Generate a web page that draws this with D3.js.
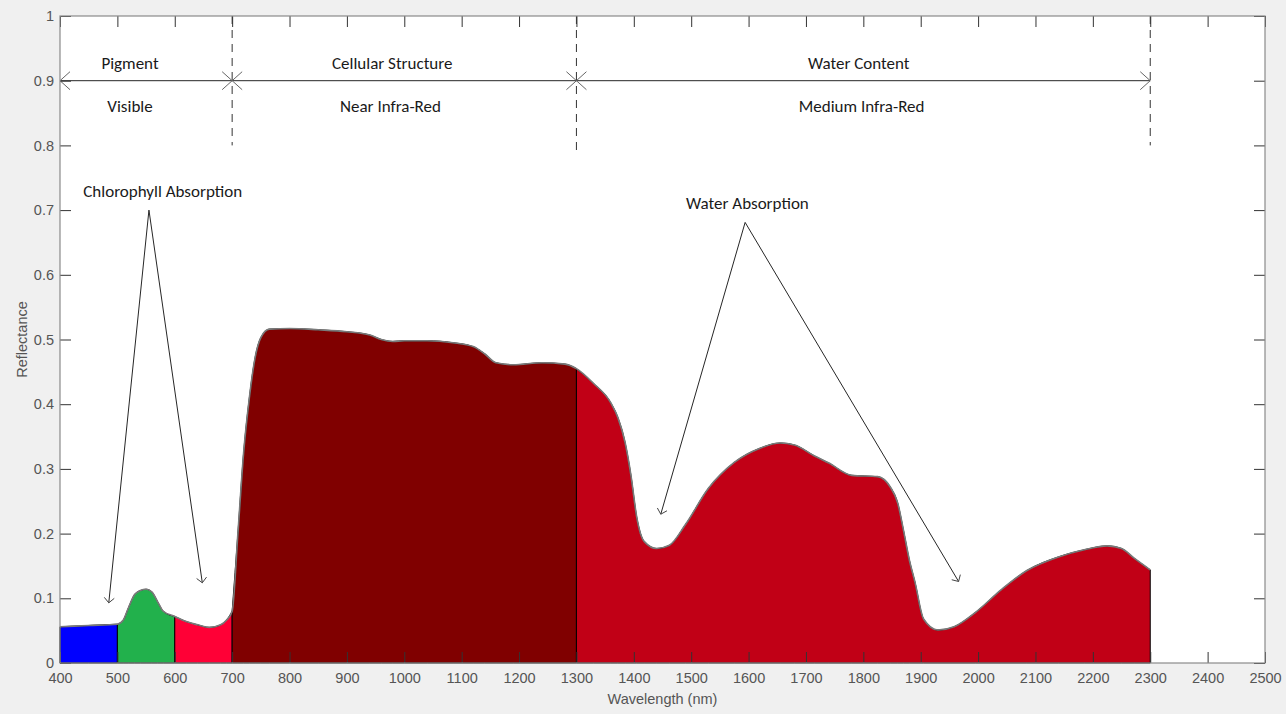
<!DOCTYPE html>
<html>
<head>
<meta charset="utf-8">
<script src="https://cdn.jsdelivr.net/npm/d3@7"></script>
<style>
  html, body { margin: 0; padding: 0; background: #f0f0f0; }
  .tick text { font-family: "Liberation Sans", Arial, sans-serif; font-size: 14.5px; fill: #555; }
  .tick line { stroke: #333; }
  .note { font-family: Carlito, Lato, "Open Sans", sans-serif; font-size: 17px; fill: #1a1a1a; }
</style>
</head>
<body>
<script>
// reflectance of a green leaf
var wavelengths = [400, 450, 500, 510, 520, 530, 540, 550, 560, 570, 580, 600, 620, 640, 660, 680, 690, 700,
    710, 720, 730, 740, 750, 765, 800, 850, 900, 940, 960, 980, 1000, 1040, 1085, 1120, 1140, 1160, 1190,
    1240, 1280, 1300, 1330, 1360, 1372, 1385, 1395, 1405, 1418, 1440, 1462, 1490, 1530, 1575, 1620, 1655,
    1680, 1715, 1740, 1780, 1825, 1847, 1860, 1870, 1880, 1890, 1905, 1930, 1958, 1995, 2040, 2085, 2140,
    2185, 2225, 2250, 2272, 2300];
var reflectance = [0.056, 0.058, 0.060, 0.066, 0.087, 0.106, 0.112, 0.114, 0.110, 0.095, 0.080, 0.072, 0.064, 0.059, 0.055, 0.059, 0.066, 0.080,
    0.200, 0.325, 0.410, 0.472, 0.503, 0.516, 0.517, 0.515, 0.512, 0.507, 0.500, 0.497, 0.498, 0.498, 0.495, 0.489, 0.478, 0.464, 0.461,
    0.464, 0.462, 0.455, 0.432, 0.402, 0.380, 0.340, 0.290, 0.226, 0.188, 0.177, 0.182, 0.214, 0.270, 0.310, 0.332, 0.340,
    0.337, 0.320, 0.309, 0.290, 0.288, 0.272, 0.247, 0.205, 0.160, 0.125, 0.068, 0.051, 0.056, 0.078, 0.113, 0.143, 0.164,
    0.175, 0.181, 0.177, 0.162, 0.144];

// coloured bands under the curve
var bandStart = [400, 500, 600, 700, 1300];
var bandEnd = [500, 600, 700, 1300, 2300];
var bandColor = ["#0000ff", "#22b14c", "#ff0036", "#800000", "#c10016"];

// regions at the top
var regionStart = [400, 700, 1300];
var regionEnd = [700, 1300, 2300];
var regionTop = ["Pigment", "Cellular Structure", "Water Content"];
var regionTopX = [522, 979, 1792];
var regionBottom = ["Visible", "Near Infra-Red", "Medium Infra-Red"];
var regionBottomX = [522, 976, 1797];
var dividerAt = [700, 1300, 2300];
var dividerLow = [0.8, 0.79, 0.8];

// callouts: label, label position, apex, two arrow tips
var calloutText = ["Chlorophyll Absorption", "Water Absorption"];
var calloutX = [579, 1598];
var calloutY = [0.730, 0.711];
var calloutApex = [[555, 0.700], [1594, 0.681]];
var calloutTips = [[[485, 0.093], [648, 0.124]], [[1447, 0.230], [1966, 0.126]]];

var xTicks = d3.range(400, 2501, 100);
var yTicks = d3.range(0, 1.01, 0.1);

var W = 1286, H = 714;
var margin = {top: 16, right: 21, bottom: 51, left: 60};
var w = W - margin.left - margin.right, h = H - margin.top - margin.bottom;

var svg = d3.select("body").append("svg")
    .attr("width", W)
    .attr("height", H)
    .style("display", "block");

svg.append("rect").attr("width", W).attr("height", H).attr("fill", "#f0f0f0");

var g = svg.append("g").attr("transform", "translate(" + margin.left + "," + margin.top + ")");

var x = d3.scaleLinear().domain([400, 2500]).range([0, w]);
var y = d3.scaleLinear().domain([0, 1]).range([h, 0]);

g.append("rect").attr("width", w).attr("height", h).attr("fill", "#fff");

var spectrum = wavelengths.map(function(d, i) { return {w: d, r: reflectance[i]}; });

var area = d3.area()
    .x(d => x(d.w))
    .y0(y(0))
    .y1(d => y(d.r))
    .curve(d3.curveMonotoneX);

var line = d3.line()
    .x(d => x(d.w))
    .y(d => y(d.r))
    .curve(d3.curveMonotoneX);

bandStart.forEach(function(s, i) {
    var pts = spectrum.filter(d => d.w >= s && d.w <= bandEnd[i]);
    g.append("path")
        .datum(pts)
        .attr("d", area)
        .attr("fill", bandColor[i])
        .attr("stroke", "#000")
        .attr("stroke-width", 1);
});

g.append("path")
    .datum(spectrum)
    .attr("d", line)
    .attr("fill", "none")
    .attr("stroke", "#7a7a7a")
    .attr("stroke-width", 1.6);

// dashed dividers
dividerAt.forEach(function(d, i) {
    g.append("line")
        .attr("x1", x(d)).attr("x2", x(d))
        .attr("y1", y(1)).attr("y2", y(dividerLow[i]))
        .attr("stroke", "#333")
        .attr("stroke-width", 1)
        .attr("stroke-dasharray", "8,6");
});

function head(x1, y1, x2, y2, len, half) {
    var a = Math.atan2(y2 - y1, x2 - x1);
    var bx = x2 - len * Math.cos(a), by = y2 - len * Math.sin(a);
    var px = -Math.sin(a) * half, py = Math.cos(a) * half;
    return "M" + (bx + px) + "," + (by + py) + "L" + x2 + "," + y2 + "L" + (bx - px) + "," + (by - py);
}

// double arrows with region names
regionStart.forEach(function(s, i) {
    var x1 = x(s), x2 = x(regionEnd[i]), yy = y(0.9);
    g.append("line")
        .attr("x1", x1).attr("x2", x2).attr("y1", yy).attr("y2", yy)
        .attr("stroke", "#262626").attr("stroke-width", 1);
    g.append("path").attr("d", head(x1, yy, x2, yy, 10, 9))
        .attr("fill", "none").attr("stroke", "#666").attr("stroke-width", 1);
    g.append("path").attr("d", head(x2, yy, x1, yy, 10, 9))
        .attr("fill", "none").attr("stroke", "#666").attr("stroke-width", 1);
    g.append("text").attr("class", "note")
        .attr("x", x(regionTopX[i])).attr("y", y(0.927))
        .attr("dy", "0.35em").attr("text-anchor", "middle")
        .text(regionTop[i]);
    g.append("text").attr("class", "note")
        .attr("x", x(regionBottomX[i])).attr("y", y(0.861))
        .attr("dy", "0.35em").attr("text-anchor", "middle")
        .text(regionBottom[i]);
});

// absorption callouts
calloutText.forEach(function(t, i) {
    g.append("text").attr("class", "note")
        .attr("x", x(calloutX[i])).attr("y", y(calloutY[i]))
        .attr("dy", "0.35em").attr("text-anchor", "middle")
        .text(t);
    var ax = x(calloutApex[i][0]), ay = y(calloutApex[i][1]);
    calloutTips[i].forEach(function(tp) {
        var tx = x(tp[0]), ty = y(tp[1]);
        g.append("line")
            .attr("x1", ax).attr("y1", ay).attr("x2", tx).attr("y2", ty)
            .attr("stroke", "#262626").attr("stroke-width", 1);
        g.append("path").attr("d", head(ax, ay, tx, ty, 5, 5))
            .attr("fill", "none").attr("stroke", "#444").attr("stroke-width", 1);
    });
});

// axes, ticks inward
var tk = 11;
g.append("g").attr("transform", "translate(0," + h + ")")
    .call(d3.axisBottom(x).tickValues(xTicks).tickSizeInner(-tk).tickSizeOuter(0).tickPadding(10).tickFormat(d3.format("d")))
    .call(a => a.select(".domain").remove());
g.append("g")
    .call(d3.axisTop(x).tickValues(xTicks).tickSizeInner(-tk).tickSizeOuter(0).tickFormat(""))
    .call(a => a.select(".domain").remove());
g.append("g")
    .call(d3.axisLeft(y).tickValues(yTicks).tickSizeInner(-tk).tickSizeOuter(0).tickPadding(6).tickFormat(d => d3.format("")(+d.toFixed(1))))
    .call(a => a.select(".domain").remove());
g.append("g").attr("transform", "translate(" + w + ",0)")
    .call(d3.axisRight(y).tickValues(yTicks).tickSizeInner(-tk).tickSizeOuter(0).tickFormat(""))
    .call(a => a.select(".domain").remove());

g.append("rect").attr("width", w).attr("height", h)
    .attr("fill", "none").attr("stroke", "#8a8a8a").attr("stroke-width", 1.2);

g.append("text")
    .attr("x", w / 2).attr("y", h + 41)
    .attr("text-anchor", "middle")
    .style("font-family", "'Liberation Sans', Arial, sans-serif")
    .style("font-size", "14.5px").style("fill", "#555")
    .text("Wavelength (nm)");

g.append("text")
    .attr("transform", "translate(-33," + (h / 2) + ") rotate(-90)")
    .attr("text-anchor", "middle")
    .style("font-family", "'Liberation Sans', Arial, sans-serif")
    .style("font-size", "14.5px").style("fill", "#555")
    .text("Reflectance");
</script>
</body>
</html>
